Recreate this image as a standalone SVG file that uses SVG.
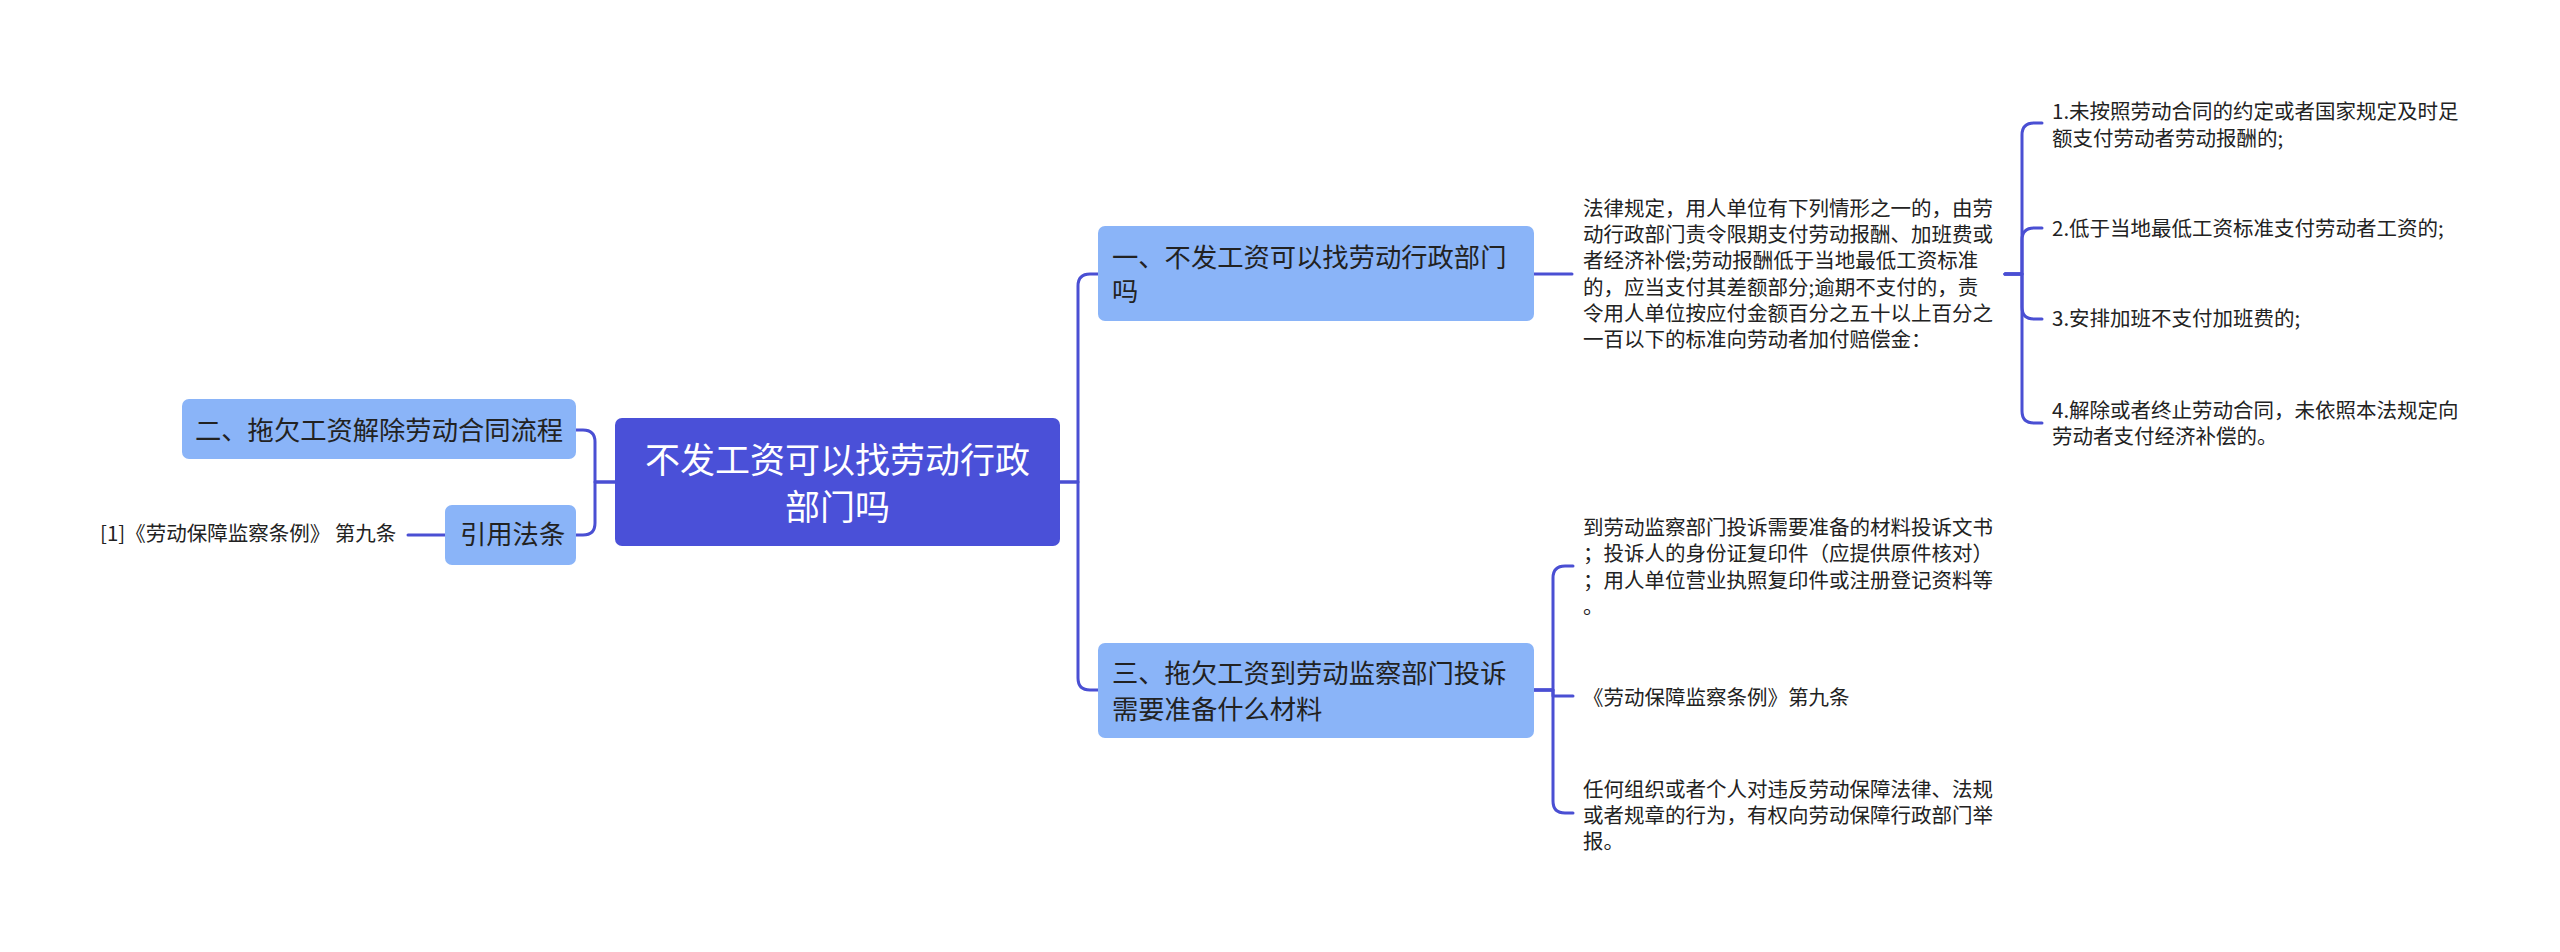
<svg xmlns="http://www.w3.org/2000/svg" width="2560" height="952" viewBox="0 0 2560 952">
<style>
.cn{fill:none;stroke:#4A4FD3;stroke-width:3;stroke-linecap:round;stroke-linejoin:round}
.root{fill:#4A50D8}
.l1{fill:#8AB4F8}
.t{font-family:"Noto Sans CJK SC","Noto Sans",sans-serif}
.tr{font-size:35px;fill:#ffffff;text-anchor:middle}
.t1{font-size:26.3px;fill:#222222}
.t2{font-size:20.5px;fill:#222222}
</style>
<rect width="2560" height="952" fill="#ffffff"/>
<g id="connectors">
<path class="cn" d="M615,482 H595 V442 Q595,430 583,430 H576"/>
<path class="cn" d="M615,482 H595 V523 Q595,535 583,535 H576"/>
<path class="cn" d="M445,535 H408"/>
<path class="cn" d="M1060,482 H1078 V286 Q1078,274 1090,274 H1098"/>
<path class="cn" d="M1060,482 H1078 V678 Q1078,690 1090,690 H1098"/>
<path class="cn" d="M1534,274 H1572"/>
<path class="cn" d="M2005,274 H2022 V135 Q2022,123 2034,123 H2042"/>
<path class="cn" d="M2005,274 H2022 V240 Q2022,228 2034,228 H2042"/>
<path class="cn" d="M2005,274 H2022 V307 Q2022,319 2034,319 H2042"/>
<path class="cn" d="M2005,274 H2022 V411 Q2022,423 2034,423 H2042"/>
<path class="cn" d="M1534,690 H1553 V578 Q1553,566 1565,566 H1573"/>
<path class="cn" d="M1534,690 H1553 V696 H1573"/>
<path class="cn" d="M1534,690 H1553 V801 Q1553,813 1565,813 H1573"/>
</g>
<g id="root">
<rect class="root" x="615" y="418" width="445" height="128" rx="7"/>
<text class="t tr" x="837.5" y="473">不发工资可以找劳动行政</text>
<text class="t tr" x="837.5" y="520">部门吗</text>
</g>
<g id="n2">
<rect class="l1" x="182" y="399" width="394" height="60" rx="7"/>
<text class="t t1" x="195" y="440">二、拖欠工资解除劳动合同流程</text>
</g>
<g id="nref">
<rect class="l1" x="445" y="505" width="131" height="60" rx="7"/>
<text class="t t1" x="460" y="544">引用法条</text>
</g>
<g id="nref1">
<text class="t t2" x="100" y="541">[1]《劳动保障监察条例》 第九条</text>
</g>
<g id="n1">
<rect class="l1" x="1098" y="226" width="436" height="95" rx="7"/>
<text class="t t1" x="1112" y="267">一、不发工资可以找劳动行政部门</text>
<text class="t t1" x="1112" y="301">吗</text>
</g>
<g id="n3">
<rect class="l1" x="1098" y="643" width="436" height="95" rx="7"/>
<text class="t t1" x="1112" y="683">三、拖欠工资到劳动监察部门投诉</text>
<text class="t t1" x="1112" y="719">需要准备什么材料</text>
</g>
<g id="n1a">
<text class="t t2" x="1583" y="216">法律规定，用人单位有下列情形之一的，由劳</text>
<text class="t t2" x="1583" y="242">动行政部门责令限期支付劳动报酬、加班费或</text>
<text class="t t2" x="1583" y="268">者经济补偿;劳动报酬低于当地最低工资标准</text>
<text class="t t2" x="1583" y="295">的，应当支付其差额部分;逾期不支付的，责</text>
<text class="t t2" x="1583" y="321">令用人单位按应付金额百分之五十以上百分之</text>
<text class="t t2" x="1583" y="347">一百以下的标准向劳动者加付赔偿金：</text>
</g>
<g id="n1a1">
<text class="t t2" x="2052" y="119">1.未按照劳动合同的约定或者国家规定及时足</text>
<text class="t t2" x="2052" y="146">额支付劳动者劳动报酬的;</text>
</g>
<g id="n1a2">
<text class="t t2" x="2052" y="236">2.低于当地最低工资标准支付劳动者工资的;</text>
</g>
<g id="n1a3">
<text class="t t2" x="2052" y="326">3.安排加班不支付加班费的;</text>
</g>
<g id="n1a4">
<text class="t t2" x="2052" y="418">4.解除或者终止劳动合同，未依照本法规定向</text>
<text class="t t2" x="2052" y="444">劳动者支付经济补偿的。</text>
</g>
<g id="n3a">
<text class="t t2" x="1583" y="535">到劳动监察部门投诉需要准备的材料投诉文书</text>
<text class="t t2" x="1583" y="561">；投诉人的身份证复印件（应提供原件核对）</text>
<text class="t t2" x="1583" y="588">；用人单位营业执照复印件或注册登记资料等</text>
<text class="t t2" x="1583" y="614">。</text>
</g>
<g id="n3b">
<text class="t t2" x="1583" y="705">《劳动保障监察条例》第九条</text>
</g>
<g id="n3c">
<text class="t t2" x="1583" y="797">任何组织或者个人对违反劳动保障法律、法规</text>
<text class="t t2" x="1583" y="823">或者规章的行为，有权向劳动保障行政部门举</text>
<text class="t t2" x="1583" y="849">报。</text>
</g>
</svg>
